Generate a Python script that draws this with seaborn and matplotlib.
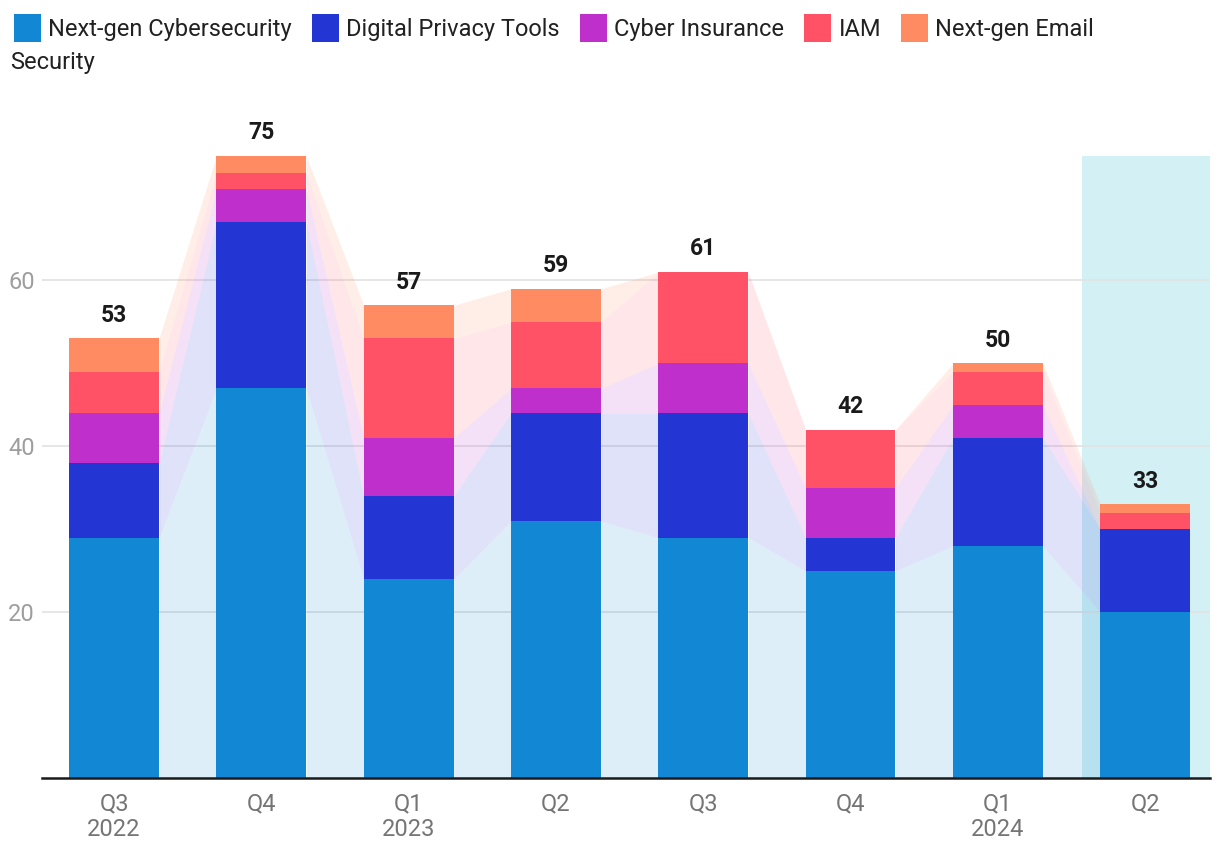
import numpy as np
import pandas as pd
import seaborn as sns
import matplotlib.pyplot as plt
from matplotlib.patches import Patch

# Data
quarters = ["2022Q3", "2022Q4", "2023Q1", "2023Q2", "2023Q3", "2023Q4", "2024Q1", "2024Q2"]
tick_labels = ["Q3\n2022", "Q4", "Q1\n2023", "Q2", "Q3", "Q4", "Q1\n2024", "Q2"]
series = ["Next-gen Cybersecurity", "Digital Privacy Tools", "Cyber Insurance", "IAM", "Next-gen Email Security"]
nextgen_cyber = [29, 47, 24, 31, 29, 25, 28, 20]
privacy_tools = [9, 20, 10, 13, 15, 4, 13, 10]
cyber_insurance = [6, 4, 7, 3, 6, 6, 4, 0]
iam = [5, 2, 12, 8, 11, 7, 4, 2]
email_security = [4, 2, 4, 4, 0, 0, 1, 1]
colors = ["#1287D4", "#2336D4", "#BF2FCC", "#FF5266", "#FF8B62"]

sns.set_style("white")
plt.rcParams["font.family"] = ["Roboto", "DejaVu Sans"]

layers = np.array([nextgen_cyber, privacy_tools, cyber_insurance, iam, email_security])
cum = np.cumsum(layers, axis=0)
totals = cum[-1]

fig = plt.figure(figsize=(12.2, 8.66), dpi=100)
ax = fig.add_axes([42 / 1220, 88 / 866, (1210 - 42) / 1220, (778 - 98) / 866])

w = 0.61
# highlight for the latest quarter
ax.axvspan(6.57, 7.6, ymin=0, ymax=75 / 82, color="#D3F0F4", lw=0, zorder=0)

# connecting bands between bars
for k in range(len(series)):
    lo = cum[k] - layers[k]
    hi = cum[k]
    for i in range(len(quarters) - 1):
        ax.fill_between([i + w / 2, i + 1 - w / 2], [lo[i], lo[i + 1]], [hi[i], hi[i + 1]],
                        color=colors[k], alpha=0.14, lw=0, zorder=1)

# stacked bars: draw cumulative totals top layer first
for k in reversed(range(len(series))):
    df = pd.DataFrame({"quarter": quarters, "value": cum[k]})
    sns.barplot(data=df, x="quarter", y="value", order=quarters, color=colors[k],
                width=w, saturation=1, linewidth=0, edgecolor="none", ax=ax, zorder=2)

for i, t in enumerate(totals):
    ax.text(i, t + 2.8, str(t), ha="center", va="center", fontsize=16.5,
            fontweight="bold", color="#1a1a1a")

ax.set_xlim(-0.489, 7.44)
ax.set_ylim(0, 82)
ax.set_yticks([20, 40, 60])
ax.yaxis.grid(True, color="#E2E2E2", lw=1.2, zorder=0.5)
ax.set_axisbelow(True)
ax.set_xticks(range(len(quarters)))
ax.set_xticklabels(tick_labels)
ax.tick_params(axis="y", length=0, pad=5, labelsize=17, labelcolor="#9E9E9E")
ax.tick_params(axis="x", length=0, pad=10, labelsize=17, labelcolor="#757575")
ax.set_xlabel("")
ax.set_ylabel("")
for s in ["top", "right", "left"]:
    ax.spines[s].set_visible(False)
ax.spines["bottom"].set_color("#1a1a1a")
ax.spines["bottom"].set_linewidth(1.8)
ax.spines["bottom"].set_zorder(5)

handles = [Patch(facecolor=c, edgecolor="none") for c in colors]
labels = series[:4] + ["Next-gen Email"]
fig.legend(handles, labels, loc="upper left", bbox_to_anchor=(0.0, 1.0), ncol=5,
           frameon=False, fontsize=17, handlelength=1.15, handleheight=1.45,
           handletextpad=0.3, columnspacing=0.85, borderaxespad=0.2,
           labelcolor="#212121")
fig.text(10 / 1220, 1 - 62 / 866, "Security", fontsize=17, va="center", ha="left", color="#212121")

fig.savefig("out.png", dpi=100)
